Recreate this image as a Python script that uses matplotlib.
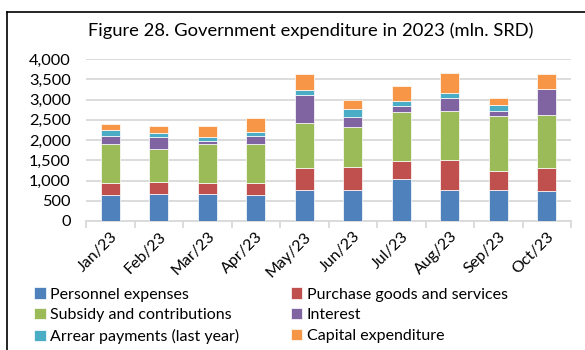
import matplotlib

matplotlib.use("Agg")
import matplotlib.pyplot as plt
import numpy as np
from matplotlib.lines import Line2D
from matplotlib.ticker import FuncFormatter

plt.rcParams["font.family"] = ["Lato", "DejaVu Sans"]

months = ["Jan/23", "Feb/23", "Mar/23", "Apr/23", "May/23",
          "Jun/23", "Jul/23", "Aug/23", "Sep/23", "Oct/23"]

personnel = [635, 660, 668, 635, 775, 775, 1031, 775, 775, 751]
purchase = [314, 305, 281, 305, 545, 570, 462, 727, 454, 553]
subsidy = [957, 817, 957, 957, 1105, 973, 1188, 1204, 1353, 1303]
interest = [198, 280, 74, 207, 677, 240, 149, 322, 124, 652]
arrear = [148, 99, 82, 98, 132, 198, 124, 124, 149, 5]
capital = [148, 182, 289, 330, 404, 231, 371, 503, 173, 355]

series = [
    ("Personnel expenses", personnel, "#4F81BD"),
    ("Purchase goods and services", purchase, "#C0504D"),
    ("Subsidy and contributions", subsidy, "#9BBB59"),
    ("Interest", interest, "#8064A2"),
    ("Arrear payments (last year)", arrear, "#4BACC6"),
    ("Capital expenditure", capital, "#F79646"),
]

fig = plt.figure(figsize=(5.85, 3.5), dpi=100)
ax = fig.add_axes([86 / 585, 1 - 221 / 350, (571 - 86) / 585, (221 - 59) / 350])

x = np.arange(len(months))
bottom = np.zeros(len(months))
handles = {}
for name, vals, color in series:
    b = ax.bar(x, vals, 0.4, bottom=bottom, color=color,
               edgecolor="white", linewidth=0.5, zorder=3, label=name)
    handles[name] = b
    bottom += np.array(vals)

ax.set_xlim(-0.5, len(months) - 0.5)
ax.set_ylim(0, 4000)
ax.set_yticks(range(0, 4001, 500))
ax.yaxis.set_major_formatter(FuncFormatter(lambda v, p: f"{int(v):,}"))
ax.grid(axis="y", color="#D9D9D9", linewidth=1.3, zorder=0)
for s in ["top", "right", "left"]:
    ax.spines[s].set_visible(False)
ax.spines["bottom"].set_color("#D9D9D9")
ax.spines["bottom"].set_linewidth(1.3)
ax.tick_params(axis="y", length=0, labelsize=11.8, pad=11)

ax.set_xticks(np.arange(-0.5, len(months), 1.0))
ax.set_xticklabels([])
ax.tick_params(axis="x", which="major", length=5, color="#D9D9D9", width=1.3)
ax.set_xticks(x, minor=True)
ax.set_xticklabels(months, minor=True, rotation=45, ha="right",
                   rotation_mode="anchor", fontsize=11.5)
ax.tick_params(axis="x", which="minor", length=0, pad=6)

fig.text(311 / 585, 1 - 31 / 350, "Figure 28. Government expenditure in 2023 (mln. SRD)",
         ha="center", va="center", fontsize=13.2)

order = ["Personnel expenses", "Subsidy and contributions", "Arrear payments (last year)",
         "Purchase goods and services", "Interest", "Capital expenditure"]
fig.legend([handles[n] for n in order], order, ncol=2,
           loc="upper left", bbox_to_anchor=(28 / 585, 1 - 281 / 350),
           frameon=False, fontsize=11.5, handlelength=0.7, handleheight=0.7,
           handletextpad=0.3, columnspacing=3.2, labelspacing=0.42,
           borderaxespad=0)

fig.add_artist(Line2D([7 / 585, 1], [1 - 12 / 350, 1 - 12 / 350],
                      transform=fig.transFigure, color="black", linewidth=1.2))
fig.add_artist(Line2D([7 / 585, 7 / 585], [0, 1 - 12 / 350],
                      transform=fig.transFigure, color="black", linewidth=1.2))

fig.savefig("out.png", dpi=100)
